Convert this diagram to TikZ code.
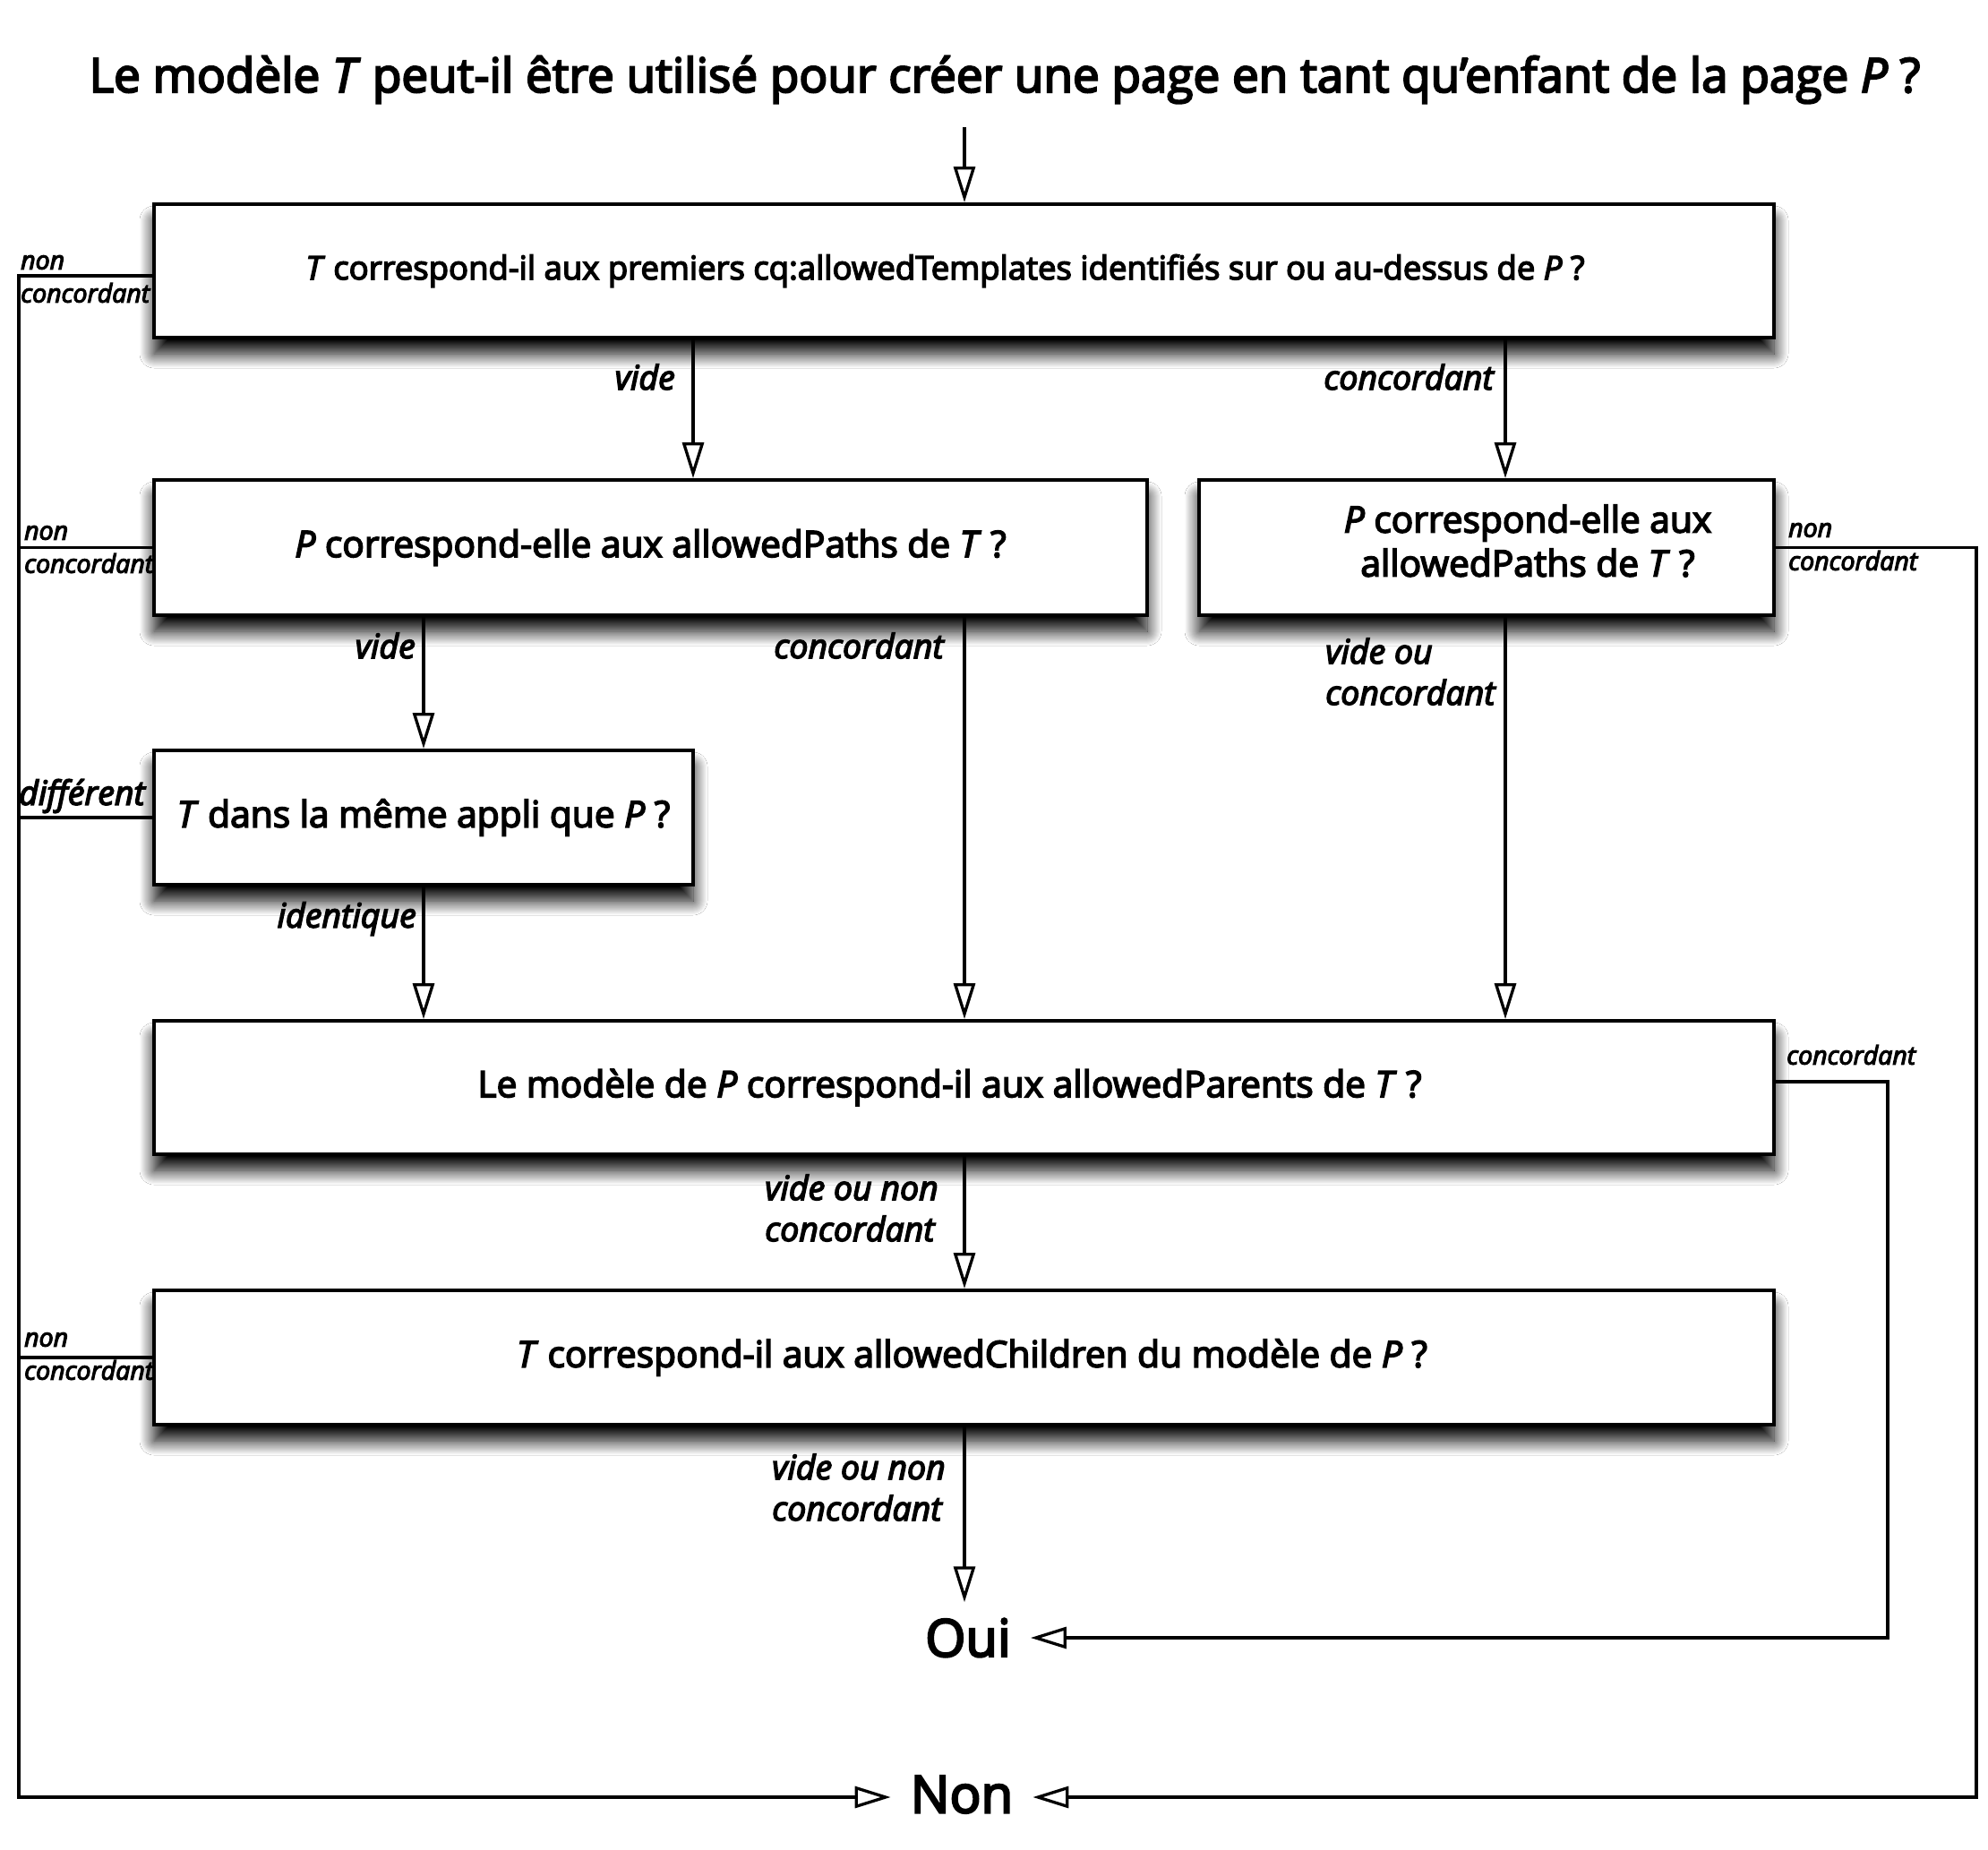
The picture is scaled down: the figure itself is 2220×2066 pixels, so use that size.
\documentclass[tikz,border=0pt]{standalone}
\usepackage{fontspec}
\setmainfont{Open Sans}[UprightFeatures={FakeBold=4}, ItalicFeatures={FakeBold=4}]
\usetikzlibrary{arrows.meta,shadows.blur}
\begin{document}
\begin{tikzpicture}[x=1pt,y=-1pt,
  box/.style={draw, line width=4pt, fill=white, inner sep=0pt,
    blur shadow={shadow xshift=0pt, shadow yshift=-18pt, shadow blur radius=16pt, shadow blur steps=16, shadow opacity=100}},
  conn/.style={line width=3.3pt, -{Triangle[open,length=40pt,width=24pt,line width=3.3pt]}},
  plain/.style={line width=3.3pt},
  btxt/.style={font=\fontsize{40.7}{49}\selectfont, align=center},
  lab/.style={font=\fontsize{37.5}{46}\selectfont\itshape, inner sep=0pt, align=left},
  slab/.style={font=\fontsize{28.5}{30}\selectfont\itshape, inner sep=0pt},
  endtxt/.style={font=\fontsize{58}{60}\selectfont, inner ysep=18pt, inner xsep=22pt}]
\useasboundingbox (0,0) rectangle (2220,2066);
\fill[white] (0,0) rectangle (2220,2066);

\node[font=\fontsize{53}{60}\selectfont, inner sep=0pt] (title) at (1122,89)
  {Le modèle \textit{T} peut-il être utilisé pour créer une page en tant qu’enfant de la page \textit{P} ?};
\coordinate (start) at (1077,142);

\node[box, font=\fontsize{36.5}{44}\selectfont, minimum width=1809pt, minimum height=149pt] (b1) at (1076.5,302.5)
  {\hspace*{-42pt}\textit{T} correspond-il aux premiers cq:allowedTemplates identifiés sur ou au-dessus de \textit{P} ?};
\node[box, btxt, minimum width=1109pt, minimum height=151pt] (b2) at (726.5,611.5)
  {\textit{P} correspond-elle aux allowedPaths de \textit{T} ?};
\node[box, minimum width=642pt, minimum height=151pt] (b3) at (1660,611.5) {};
\node[btxt, inner sep=0pt] (b3t) at (1706,604)
  {\textit{P} correspond-elle aux\\allowedPaths de \textit{T} ?};
\node[box, btxt, minimum width=602pt, minimum height=150pt] (b4) at (473,913)
  {\textit{T} dans la même appli que \textit{P} ?};
\node[box, font=\fontsize{40.7}{49}\selectfont, minimum width=1809pt, minimum height=149pt] (b5) at (1076.5,1214.5)
  {\hspace*{-32pt}Le modèle de \textit{P} correspond-il aux allowedParents de \textit{T} ?};
\node[box, font=\fontsize{40.7}{49}\selectfont, minimum width=1809pt, minimum height=150pt] (b6) at (1076.5,1516)
  {\hspace*{18pt}\textit{T} correspond-il aux allowedChildren du modèle de \textit{P} ?};

\node[endtxt] (oui) at (1081,1829) {Oui};
\node[endtxt] (non) at (1074,2004) {Non};

% vertical connectors
\draw[conn] (start) -- (b1.north -| start);
\draw[conn] (b1.south -| 774,0) -- (b2.north -| 774,0);
\draw[conn] (b1.south -| 1681,0) -- (b3.north -| 1681,0);
\draw[conn] (b2.south -| b4.north) -- (b4.north);
\draw[conn] (b2.south -| 1077,0) -- (b5.north -| 1077,0);
\draw[conn] (b3.south -| 1681,0) -- (b5.north -| 1681,0);
\draw[conn] (b4.south) -- (b5.north -| b4.south);
\draw[conn] (b5.south -| 1077,0) -- (b6.north -| 1077,0);
\draw[conn] (b6.south -| 1077,0) -- (oui.north -| 1077,0);

% left return line to Non
\draw[conn] (b1.west |- 0,308) -- (21,308) -- (21,2007) -- (non.west |- 0,2007);
\draw[plain] (b2.west) -- (21,611.5);
\draw[plain] (b4.west) -- (21,913);
\draw[plain] (b6.west) -- (21,1516);
% right lines
\draw[conn] (b3.east) -- (2207,611.5) -- (2207,2007) -- (non.east |- 0,2007);
\draw[conn] (b5.east |- 0,1208) -- (2108,1208) -- (2108,1829) -- (oui.east);

% labels
\node[lab, anchor=east] at (754,421) {vide};
\node[lab, anchor=east] at (1668,421) {concordant};
\node[lab, anchor=east] at (464,721) {vide};
\node[lab, anchor=east] at (1054,721) {concordant};
\node[lab, anchor=west] at (1480,750) {vide ou\\concordant};
\node[lab, anchor=east] at (465,1026) {identique};
\node[lab, anchor=west] at (854,1349) {vide ou non\\concordant};
\node[lab, anchor=west] at (862,1661) {vide ou non\\concordant};

\node[slab, anchor=west] at (23,293) {non};
\node[slab, anchor=west] at (23,327) {concordant};
\node[slab, anchor=west] at (27,595) {non};
\node[slab, anchor=west] at (27,629) {concordant};
\node[lab, anchor=west] at (21,889) {différent};
\node[slab, anchor=west] at (27,1496) {non};
\node[slab, anchor=west] at (27,1530) {concordant};
\node[slab, anchor=west] at (1997,592) {non};
\node[slab, anchor=west] at (1997,626) {concordant};
\node[slab, anchor=west] at (1995,1178) {concordant};
\end{tikzpicture}
\end{document}
